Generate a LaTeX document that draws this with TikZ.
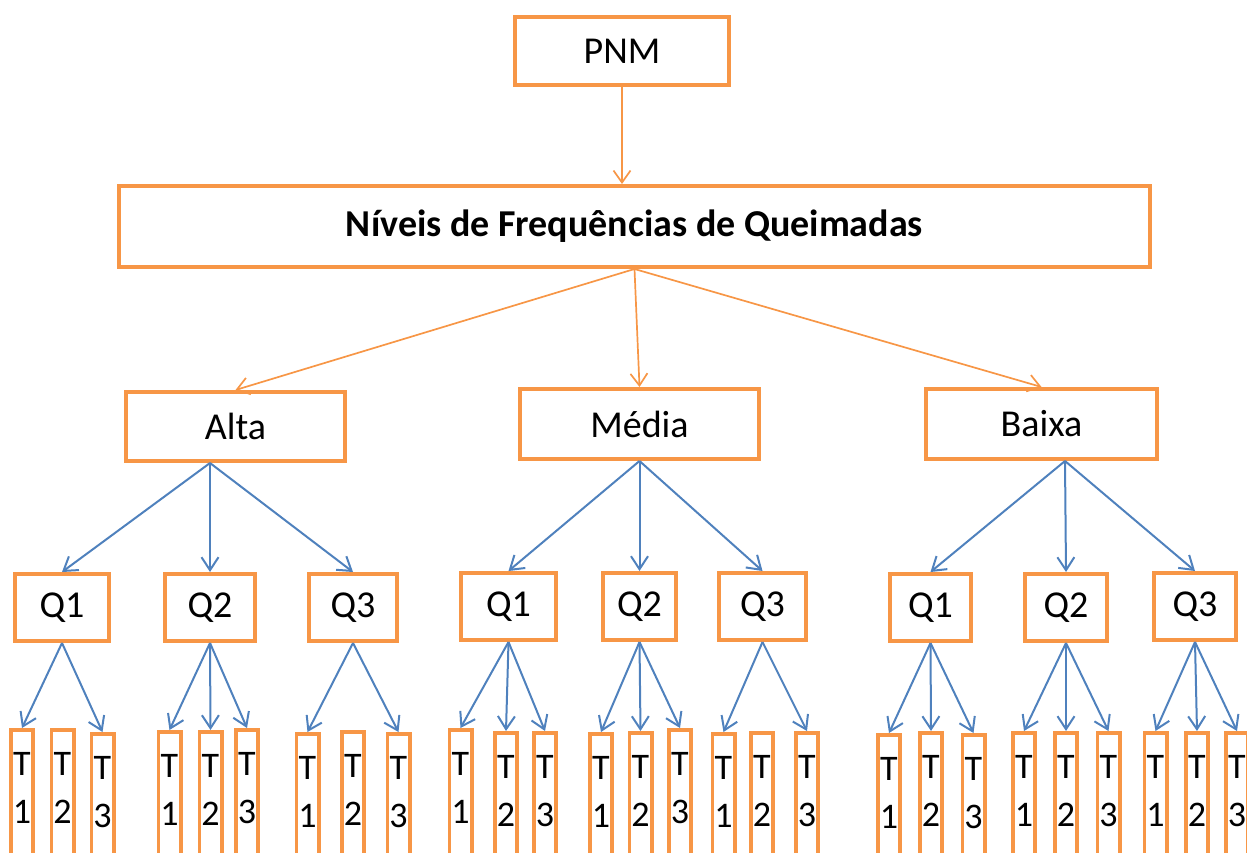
\documentclass[tikz,border=0pt]{standalone}
\usepackage{fontspec}
\setmainfont{Carlito}
\usetikzlibrary{arrows.meta}
\definecolor{boxorange}{HTML}{F79646}
\definecolor{arrowblue}{HTML}{4F81BD}
\newcommand\Tbox[4]{\node[tbox] (#1) at (#2,#3) {T\\#4\rule[-12pt]{0pt}{0pt}};}
\begin{document}
\begin{tikzpicture}[x=1pt,y=-1pt,
  box/.style={draw=boxorange, line width=4.2pt, inner sep=0pt, font=\fontsize{38}{45}\selectfont},
  qbox/.style={box, minimum height=66.8pt},
  tbox/.style={draw=boxorange, line width=3.6pt, inner sep=0pt, minimum width=22.4pt, minimum height=128pt, anchor=north, align=center, font=\fontsize{36}{48}\selectfont},
  oarr/.style={draw=boxorange, line width=1.7pt, -{Straight Barb[length=12pt,width=17pt]}},
  barr/.style={draw=arrowblue, line width=2pt, -{Straight Barb[length=13pt,width=17pt]}}]
\useasboundingbox (0,0) rectangle (1247,852);
\clip (0,0) rectangle (1247,852);
% top levels
\node[box, minimum width=213.8pt, minimum height=67.8pt] (pnm) at (622,51) {PNM};
\node[box, minimum width=1030.8pt, minimum height=80.8pt, font=\fontsize{38}{45}\selectfont\bfseries] (niveis) at (634.5,226.5) {Níveis de Frequências de Queimadas};
\node[box, minimum width=218.8pt, minimum height=68.8pt] (alta) at (235.5,426.5) {Alta};
\node[box, minimum width=238.8pt, minimum height=69.8pt] (media) at (639.5,424) {Média};
\node[box, minimum width=230.8pt, minimum height=69.8pt] (baixa) at (1041.5,424) {Baixa};
% Q level
\node[qbox, minimum width=93.8pt] (aq1) at (62,607.5) {Q1};
\node[qbox, minimum width=89.8pt] (aq2) at (210,607.5) {Q2};
\node[qbox, minimum width=87.8pt] (aq3) at (353,607.5) {Q3};
\node[qbox, minimum width=94.8pt] (mq1) at (508.5,606.5) {Q1};
\node[qbox, minimum width=72.8pt] (mq2) at (639.5,606.5) {Q2};
\node[qbox, minimum width=86.8pt] (mq3) at (762.5,606.5) {Q3};
\node[qbox, minimum width=80.8pt] (bq1) at (930.5,607.5) {Q1};
\node[qbox, minimum width=81.8pt] (bq2) at (1066,607.5) {Q2};
\node[qbox, minimum width=81.8pt] (bq3) at (1195,606.5) {Q3};
% T level
\Tbox{a1t1}{22}{728}{1}\Tbox{a1t2}{62.5}{728}{2}\Tbox{a1t3}{102.5}{732}{3}
\Tbox{a2t1}{169.5}{730}{1}\Tbox{a2t2}{210.5}{730}{2}\Tbox{a2t3}{247}{728}{3}
\Tbox{a3t1}{307.5}{732}{1}\Tbox{a3t2}{353}{730}{2}\Tbox{a3t3}{398.5}{732}{3}
\Tbox{m1t1}{460.5}{728}{1}\Tbox{m1t2}{506}{731}{2}\Tbox{m1t3}{545}{731}{3}
\Tbox{m2t1}{601}{732}{1}\Tbox{m2t2}{640.5}{731}{2}\Tbox{m2t3}{680}{728}{3}
\Tbox{m3t1}{723.5}{732}{1}\Tbox{m3t2}{762}{731}{2}\Tbox{m3t3}{807}{731}{3}
\Tbox{b1t1}{889}{733}{1}\Tbox{b1t2}{931}{731}{2}\Tbox{b1t3}{973.5}{733}{3}
\Tbox{b2t1}{1024}{731}{1}\Tbox{b2t2}{1066}{731}{2}\Tbox{b2t3}{1108.5}{731}{3}
\Tbox{b3t1}{1155.5}{731}{1}\Tbox{b3t2}{1197}{731}{2}\Tbox{b3t3}{1237}{731}{3}
% orange arrows
\draw[oarr] (pnm.south) -- (pnm.south |- niveis.north);
\draw[oarr] (niveis.south) -- (alta.north);
\draw[oarr] (niveis.south) -- (media.north);
\draw[oarr] (niveis.south) -- (baixa.north);
% blue arrows level 2
\foreach \q in {aq1,aq2,aq3} \draw[barr] ([xshift=-25.5pt]alta.south) -- (\q.north);
\foreach \q in {mq1,mq2,mq3} \draw[barr] (media.south) -- (\q.north);
\foreach \q in {bq1,bq2,bq3} \draw[barr] ([xshift=23.5pt]baixa.south) -- (\q.north);
% blue arrows level 3
\foreach \t in {a1t1,a1t3} \draw[barr] (aq1.south) -- (\t.north);
\foreach \t in {a2t1,a2t2,a2t3} \draw[barr] (aq2.south) -- (\t.north);
\foreach \t in {a3t1,a3t3} \draw[barr] (aq3.south) -- (\t.north);
\foreach \t in {m1t1,m1t2,m1t3} \draw[barr] (mq1.south) -- (\t.north);
\foreach \t in {m2t1,m2t2,m2t3} \draw[barr] (mq2.south) -- (\t.north);
\foreach \t in {m3t1,m3t3} \draw[barr] (mq3.south) -- (\t.north);
\foreach \t in {b1t1,b1t2,b1t3} \draw[barr] (bq1.south) -- (\t.north);
\foreach \t in {b2t1,b2t2,b2t3} \draw[barr] (bq2.south) -- (\t.north);
\foreach \t in {b3t1,b3t2,b3t3} \draw[barr] (bq3.south) -- (\t.north);
\end{tikzpicture}
\end{document}
